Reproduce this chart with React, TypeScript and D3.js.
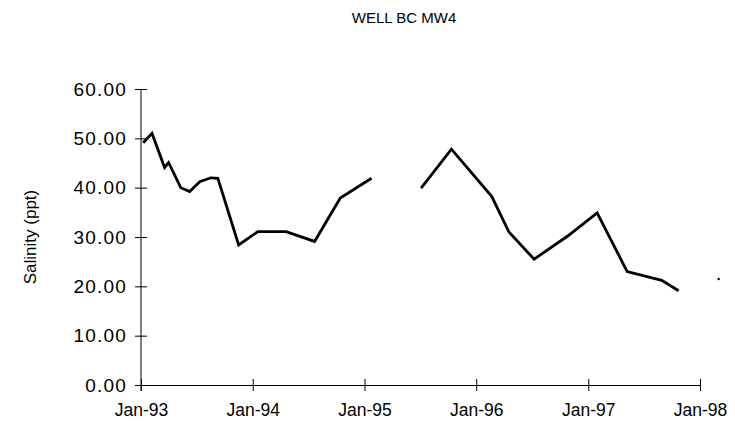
import { useEffect, useRef } from "react";
import * as d3 from "d3";

// sample dates; null salinity = no sample (gap in line)
const sampleDates = [
  "1993-01-08", "1993-02-06", "1993-03-19", "1993-04-01", "1993-05-11",
  "1993-06-09", "1993-07-12", "1993-08-17", "1993-09-09", "1993-11-16",
  "1994-01-18", "1994-04-20", "1994-07-22", "1994-10-14", "1995-01-24",
  "1995-04-15",
  "1995-07-05", "1995-10-12", "1996-02-21", "1996-04-16", "1996-07-08",
  "1996-10-26", "1997-01-30", "1997-05-08", "1997-08-29", "1997-10-23",
  "1997-12-20",
  "1998-03-03",
];
const salinity: (number | null)[] = [
  49.1, 51.0, 44.1, 45.1, 40.0,
  39.2, 41.2, 42.0, 41.9, 28.4,
  31.1, 31.1, 29.1, 37.9, 41.9,
  null,
  39.9, 47.8, 38.2, 31.1, 25.5,
  30.2, 34.9, 23.0, 21.2, 19.1,
  null,
  21.5,
];
const yTicks = [0, 10, 20, 30, 40, 50, 60];
const xTickLabels = ["1993-01-01", "1994-01-01", "1995-01-01", "1996-01-01", "1997-01-01", "1998-01-01"];

type Pt = { date: Date; value: number | null };

function App() {
  const svgRef = useRef<SVGSVGElement>(null);

  useEffect(() => {
    if (!svgRef.current) return;
    const svg = d3.select(svgRef.current);
    svg.selectAll("*").remove();

    const parse = d3.timeParse("%Y-%m-%d");
    const data: Pt[] = sampleDates.map((d, i) => ({ date: parse(d)!, value: salinity[i] }));
    const xTicks = xTickLabels.map((d) => parse(d)!);

    const left = 141, right = 700, top = 89, bottom = 385;
    const x = d3.scaleTime().domain([xTicks[0], xTicks[xTicks.length - 1]]).range([left, right]);
    const y = d3.scaleLinear().domain([0, 60]).range([bottom, top]);

    const font = "Liberation Sans, Arial, sans-serif";

    svg
      .append("text")
      .attr("x", 404)
      .attr("y", 23)
      .attr("text-anchor", "middle")
      .attr("font-family", font)
      .attr("font-size", 15)
      .text("WELL BC MW4");

    svg
      .append("text")
      .attr("transform", `translate(36,${(top + bottom) / 2}) rotate(-90)`)
      .attr("text-anchor", "middle")
      .attr("font-family", font)
      .attr("font-size", 17)
      .text("Salinity (ppt)");

    // y axis with cross ticks
    const yAxis = svg
      .append("g")
      .attr("transform", `translate(${left},0)`)
      .call(
        d3.axisLeft(y).tickValues(yTicks).tickFormat(d3.format(".2f")).tickSizeOuter(0).tickSizeInner(6).tickPadding(8)
      );
    yAxis.selectAll(".tick line").attr("x1", 6).attr("stroke", "#000");
    yAxis.select(".domain").attr("stroke", "#000").attr("d", `M0,${top}V${bottom + 6}`);
    yAxis
      .selectAll("text")
      .attr("font-family", font)
      .attr("font-size", 19)
      .attr("letter-spacing", 1.2)
      .attr("fill", "#000");

    // x axis with cross ticks
    const xAxis = svg
      .append("g")
      .attr("transform", `translate(0,${bottom})`)
      .call(
        d3.axisBottom(x).tickValues(xTicks).tickFormat(d3.timeFormat("%b-%y") as any).tickSizeOuter(0).tickSizeInner(6).tickPadding(13)
      );
    xAxis.selectAll(".tick line").attr("y1", -6).attr("stroke", "#000");
    xAxis.select(".domain").attr("stroke", "#000");
    xAxis.selectAll("text").attr("font-family", font).attr("font-size", 17.5).attr("fill", "#000");

    const line = d3
      .line<Pt>()
      .defined((d) => d.value !== null)
      .x((d) => x(d.date))
      .y((d) => y(d.value as number));

    svg
      .append("path")
      .datum(data)
      .attr("fill", "none")
      .attr("stroke", "#000")
      .attr("stroke-width", 2.8)
      .attr("stroke-linejoin", "miter")
      .attr("d", line);

    // isolated samples show up only as a dot
    const isolated = data.filter(
      (d, i) =>
        d.value !== null &&
        (i === 0 || data[i - 1].value === null) &&
        (i === data.length - 1 || data[i + 1].value === null)
    );
    svg
      .selectAll("circle.iso")
      .data(isolated)
      .enter()
      .append("circle")
      .attr("class", "iso")
      .attr("cx", (d) => x(d.date))
      .attr("cy", (d) => y(d.value as number))
      .attr("r", 1.2)
      .attr("fill", "#000");
  }, []);

  return (
    <svg
      ref={svgRef}
      width={735}
      height={427}
      style={{ position: "absolute", left: 0, top: 0, background: "#fff" }}
    ></svg>
  );
}

export default App;
